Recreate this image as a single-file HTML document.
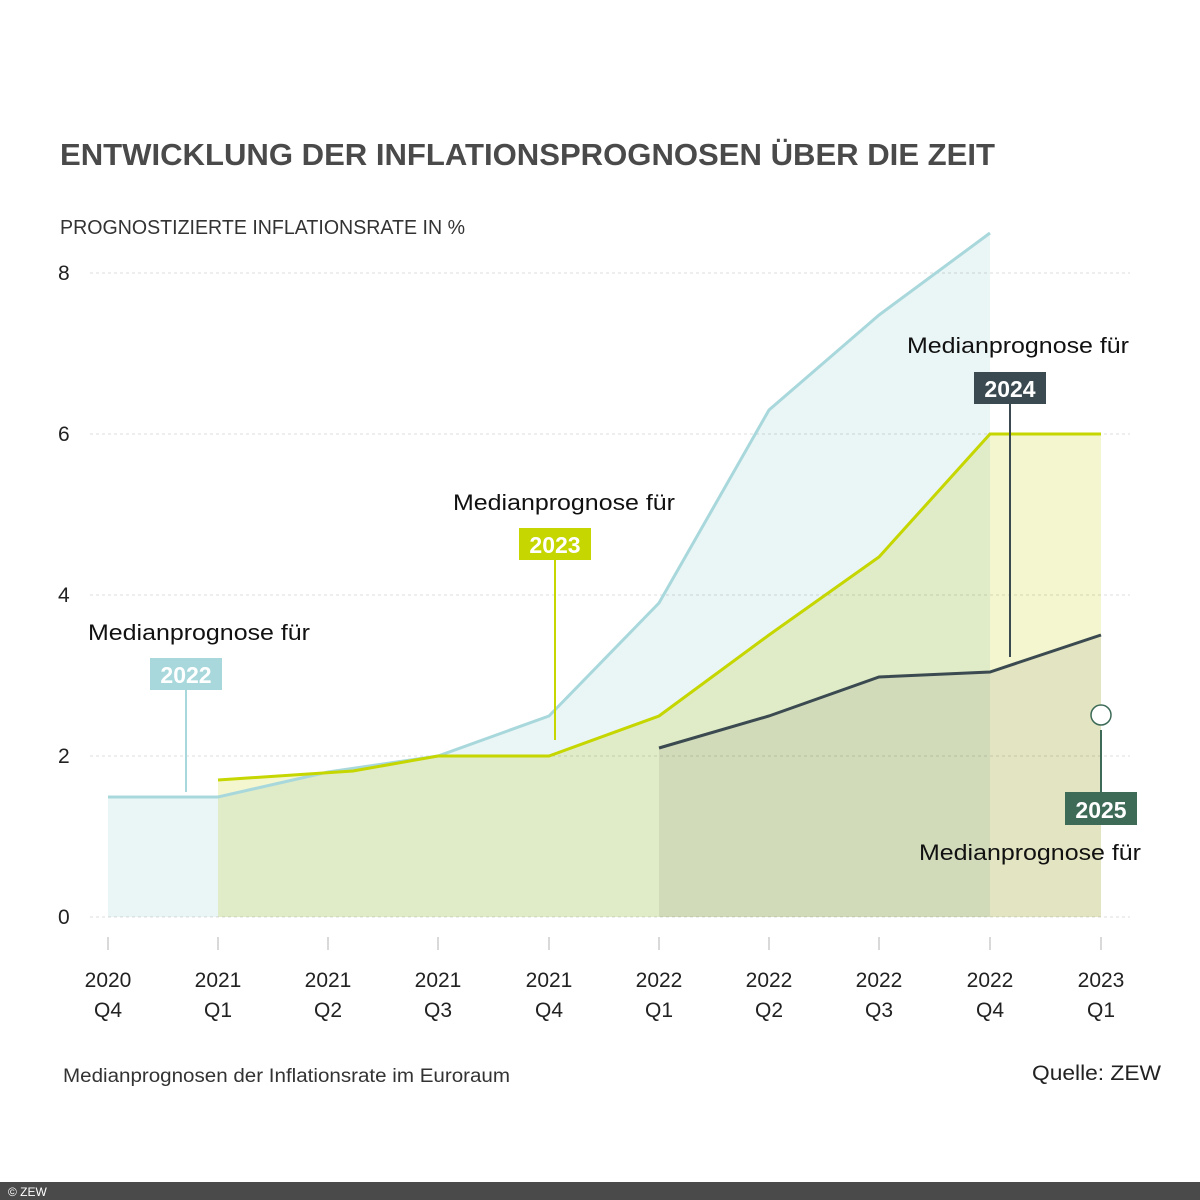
<!DOCTYPE html>
<html><head><meta charset="utf-8"><style>
body{margin:0;width:1200px;height:1200px;background:#fff;overflow:hidden;font-family:"Liberation Sans",sans-serif}
</style></head><body>
<svg width="1200" height="1200" xmlns="http://www.w3.org/2000/svg" style="position:absolute;left:0;top:0">
<text x="60" y="165" font-size="31" font-weight="bold" fill="#4a4a4a" textLength="935" lengthAdjust="spacingAndGlyphs">ENTWICKLUNG DER INFLATIONSPROGNOSEN ÜBER DIE ZEIT</text>
<text x="60" y="234" font-size="20" fill="#333" textLength="405" lengthAdjust="spacingAndGlyphs">PROGNOSTIZIERTE INFLATIONSRATE IN %</text>
<g stroke="#ddd" stroke-dasharray="3,3" stroke-width="1">
<line x1="90" x2="1130" y1="273" y2="273"/><line x1="90" x2="1130" y1="434" y2="434"/>
<line x1="90" x2="1130" y1="595" y2="595"/><line x1="90" x2="1130" y1="756" y2="756"/>
<line x1="90" x2="1130" y1="917" y2="917"/></g>
<g font-size="21" fill="#222"><text x="58" y="280">8</text><text x="58" y="441">6</text><text x="58" y="602">4</text><text x="58" y="763">2</text><text x="58" y="924">0</text></g>
<polygon fill="#eaf5f5" style="mix-blend-mode:multiply" points="108,917 108,796 218,796 328,772 438,756 549,716 659,603 769,410 879,313 990,233 990,917"/>
<polygon fill="#f4f6cf" style="mix-blend-mode:multiply" points="218,917 218,780 353,771 438,756 549,756 659,716 769,635 879,555 990,434 1101,434 1101,917"/>
<polygon fill="#eeedee" style="mix-blend-mode:multiply" points="659,917 659,748 769,716 879,677 990,672 1101,635 1101,917"/>
<polyline fill="none" stroke="#a8d8dc" stroke-width="3" points="108,797 218,797 328,772 438,756 549,716 659,603 769,410 879,315 990,233"/>
<polyline fill="none" stroke="#c5d600" stroke-width="3" points="218,780 353,771 438,756 549,756 659,716 769,635 879,557 990,434 1101,434"/>
<polyline fill="none" stroke="#3a4a50" stroke-width="3" points="659,748 769,716 879,677 990,672 1101,635"/>
<g stroke="#ccc" stroke-width="1.5">
<line x1="108" x2="108" y1="937" y2="950"/><line x1="218" x2="218" y1="937" y2="950"/><line x1="328" x2="328" y1="937" y2="950"/><line x1="438" x2="438" y1="937" y2="950"/><line x1="549" x2="549" y1="937" y2="950"/><line x1="659" x2="659" y1="937" y2="950"/><line x1="769" x2="769" y1="937" y2="950"/><line x1="879" x2="879" y1="937" y2="950"/><line x1="990" x2="990" y1="937" y2="950"/><line x1="1101" x2="1101" y1="937" y2="950"/></g>
<g font-size="21" fill="#222" text-anchor="middle">
<text x="108" y="987">2020</text><text x="108" y="1017">Q4</text>
<text x="218" y="987">2021</text><text x="218" y="1017">Q1</text>
<text x="328" y="987">2021</text><text x="328" y="1017">Q2</text>
<text x="438" y="987">2021</text><text x="438" y="1017">Q3</text>
<text x="549" y="987">2021</text><text x="549" y="1017">Q4</text>
<text x="659" y="987">2022</text><text x="659" y="1017">Q1</text>
<text x="769" y="987">2022</text><text x="769" y="1017">Q2</text>
<text x="879" y="987">2022</text><text x="879" y="1017">Q3</text>
<text x="990" y="987">2022</text><text x="990" y="1017">Q4</text>
<text x="1101" y="987">2023</text><text x="1101" y="1017">Q1</text></g>
<g font-size="22" fill="#111">
<text x="88" y="640" textLength="222" lengthAdjust="spacingAndGlyphs">Medianprognose für</text>
<text x="453" y="510" textLength="222" lengthAdjust="spacingAndGlyphs">Medianprognose für</text>
<text x="907" y="353" textLength="222" lengthAdjust="spacingAndGlyphs">Medianprognose für</text>
<text x="919" y="860" textLength="222" lengthAdjust="spacingAndGlyphs">Medianprognose für</text></g>
<line x1="186" x2="186" y1="690" y2="792" stroke="#a8d8dc" stroke-width="2"/>
<rect x="150" y="658" width="72" height="32" fill="#a8d8dc"/>
<text x="186" y="683" font-size="23" font-weight="bold" fill="#fff" text-anchor="middle">2022</text>
<line x1="555" x2="555" y1="560" y2="740" stroke="#c5d600" stroke-width="2"/>
<rect x="519" y="528" width="72" height="32" fill="#c5d600"/>
<text x="555" y="553" font-size="23" font-weight="bold" fill="#fff" text-anchor="middle">2023</text>
<line x1="1010" x2="1010" y1="404" y2="657" stroke="#3a4a50" stroke-width="2"/>
<rect x="974" y="372" width="72" height="32" fill="#3a4a50"/>
<text x="1010" y="397" font-size="23" font-weight="bold" fill="#fff" text-anchor="middle">2024</text>
<line x1="1101" x2="1101" y1="730" y2="794" stroke="#3d6b58" stroke-width="2"/>
<circle cx="1101" cy="715" r="10" fill="#fff" stroke="#3d6b58" stroke-width="1.5"/>
<rect x="1065" y="792" width="72" height="33" fill="#3d6b58"/>
<text x="1101" y="818" font-size="23" font-weight="bold" fill="#fff" text-anchor="middle">2025</text>
<text x="63" y="1082" font-size="19" fill="#333" textLength="447" lengthAdjust="spacingAndGlyphs">Medianprognosen der Inflationsrate im Euroraum</text>
<text x="1161" y="1080" font-size="21" fill="#222" text-anchor="end" textLength="129" lengthAdjust="spacingAndGlyphs">Quelle: ZEW</text>
<rect x="0" y="1182" width="1200" height="18" fill="#4a4a4a"/>
<text x="8" y="1196" font-size="12" fill="#fff">© ZEW</text>
</svg>
</body></html>
